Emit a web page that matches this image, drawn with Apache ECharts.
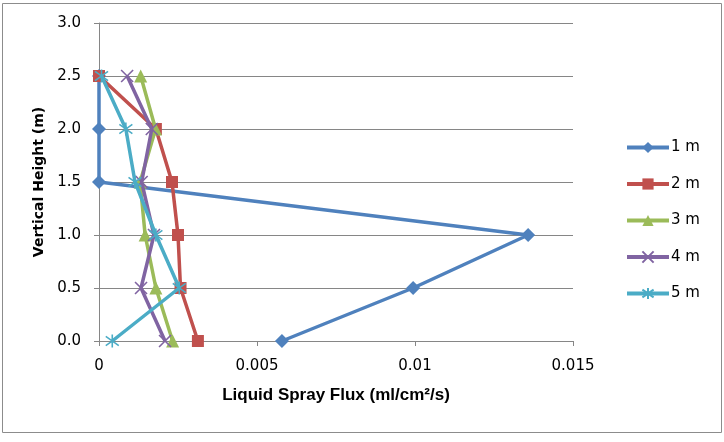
<!DOCTYPE html>
<html>
<head>
<meta charset="utf-8">
<style>
  html, body { margin: 0; padding: 0; background: #fff; }
  #chart { width: 724px; height: 442px; }
</style>
<script src="https://cdn.jsdelivr.net/npm/echarts@6/dist/echarts.min.js"></script>
</head>
<body>
<div id="chart"></div>
<script>
  // heights (m) where the flux was measured
  const heights = [0, 0.5, 1.0, 1.5, 2.0, 2.5];
  const seriesNames = ['1 m', '2 m', '3 m', '4 m', '5 m'];

  // liquid spray flux (ml/cm2/s) per height
  const flux1m = [0.00579, 0.00994, 0.01358, 0, 0, 0];
  const flux2m = [0.00313, 0.00258, 0.0025, 0.00231, 0.0018, 0];
  const flux3m = [0.00233, 0.0018, 0.00146, 0.0013, 0.00179, 0.00132];
  const flux4m = [0.00209, 0.00133, 0.00174, 0.00135, 0.00167, 0.00089];
  const flux5m = [0.00042, 0.00254, 0.0018, 0.00114, 0.00085, 0.00008];

  const colors = ['#4F81BD', '#C0504D', '#9BBB59', '#8064A2', '#4BACC6'];
  const symbols = [
    'diamond',
    'rect',
    'triangle',
    'path://M0,0L10,10M10,0L0,10',
    'path://M5,0L5,10M1.5,1.5L8.5,8.5M8.5,1.5L1.5,8.5',
  ];
  const symbolSizes = [14, 12, 13, 12, 13];
  const fluxes = [flux1m, flux2m, flux3m, flux4m, flux5m];

  const wideFont = '"DejaVu Sans", Verdana, sans-serif';
  const plainFont = '"Liberation Sans", Arial, sans-serif';

  const chart = echarts.init(document.getElementById('chart'));

  const series = fluxes.map((vals, i) => {
    const stroked = i >= 3;
    return {
      name: seriesNames[i],
      type: 'line',
      data: vals.map((v, k) => [v, heights[k]]),
      symbol: symbols[i],
      symbolSize: symbolSizes[i],
      showAllSymbol: true,
      lineStyle: { color: colors[i], width: 3.5 },
      itemStyle: stroked
        ? { color: colors[i], borderColor: colors[i], borderWidth: 1.6 }
        : { color: colors[i], borderWidth: 0 },
      emphasis: { disabled: true },
      z: 2 + i,
    };
  });

  chart.setOption({
    animation: false,
    color: colors,
    graphic: [{
      type: 'rect',
      shape: { x: 2.5, y: 3.5, width: 719, height: 429 },
      style: { fill: 'none', stroke: '#8c8c8c', lineWidth: 1 },
      silent: true,
    }],
    grid: { left: 99, right: 151, top: 23, bottom: 101 },
    legend: {
      orient: 'vertical',
      left: 620,
      top: 135,
      itemWidth: 42,
      itemHeight: 14,
      itemGap: 21.5,
      lineStyle: { width: 4 },
      textStyle: { fontFamily: wideFont, fontSize: 15, color: '#000', padding: [0, 0, 0, -3] },
      data: seriesNames,
    },
    xAxis: {
      type: 'value',
      min: 0,
      max: 0.015,
      interval: 0.005,
      name: 'Liquid Spray Flux (ml/cm²/s)',
      nameLocation: 'middle',
      nameGap: 46,
      nameTextStyle: { fontFamily: plainFont, fontSize: 17, fontWeight: 'bold', color: '#000' },
      axisLine: { show: true, lineStyle: { color: '#868686', width: 1 } },
      axisTick: { show: true, length: 5, lineStyle: { color: '#868686' } },
      axisLabel: { fontFamily: wideFont, fontSize: 15, color: '#000', margin: 18 },
      splitLine: { show: false },
    },
    yAxis: {
      type: 'value',
      min: 0,
      max: 3,
      interval: 0.5,
      name: 'Vertical Height (m)',
      nameLocation: 'middle',
      nameGap: 52,
      nameTextStyle: { fontFamily: wideFont, fontSize: 14, fontWeight: 'bold', color: '#000' },
      axisLine: { show: true, lineStyle: { color: '#868686', width: 1 } },
      axisTick: { show: true, length: 5, lineStyle: { color: '#868686' } },
      axisLabel: {
        fontFamily: wideFont,
        fontSize: 15,
        color: '#000',
        margin: 18,
        formatter: (v) => v.toFixed(1),
      },
      splitLine: { show: true, lineStyle: { color: '#868686', width: 1 } },
    },
    series,
  });
</script>
</body>
</html>
